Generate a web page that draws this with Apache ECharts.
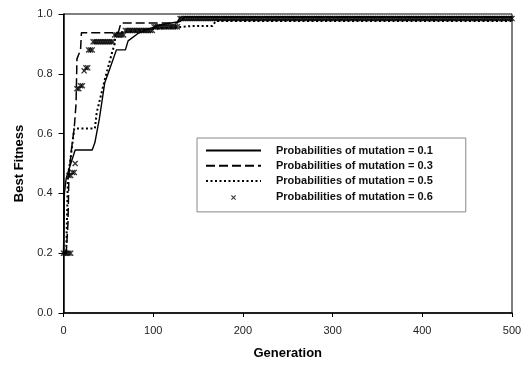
<!DOCTYPE html>
<html>
<head>
<meta charset="utf-8">
<script src="https://cdn.jsdelivr.net/npm/echarts@6/dist/echarts.min.js"></script>
<style>
  html, body { margin: 0; padding: 0; background: #fff; }
  #chart { width: 531px; height: 365px; }
</style>
</head>
<body>
<div id="chart"></div>
<script>
// [generation, best fitness]
const mut01 = [[0,0.2],[1,0.4],[3,0.45],[6,0.48],[13,0.545],[32,0.545],[35,0.57],[40,0.65],[46,0.77],[52,0.82],[59,0.88],[69,0.88],[72,0.91],[83,0.935],[95,0.95],[110,0.965],[130,0.975],[135,0.99],[500,0.99]];
const mut03 = [[0,0.2],[3,0.2],[5,0.3],[6,0.46],[9,0.55],[12,0.62],[14,0.7],[15,0.85],[19,0.88],[20,0.937],[61,0.937],[64,0.97],[127,0.97],[130,0.99],[500,0.99]];
const mut05 = [[0,0.2],[3,0.2],[5,0.46],[8,0.52],[12,0.617],[35,0.617],[37,0.67],[46,0.78],[54,0.87],[57,0.9],[58,0.937],[100,0.95],[145,0.96],[166,0.96],[170,0.977],[500,0.977]];
const mut06 = [
  [0,0.2],[2,0.2],[4,0.2],[6,0.2],[8,0.2],
  [6,0.46],[8,0.46],[10,0.47],[12,0.47],[13,0.5],
  [15,0.75],[17,0.75],[19,0.76],[21,0.76],
  [23,0.81],[25,0.82],[27,0.82],
  [28,0.88],[30,0.88],[32,0.88],
  [33,0.907],[35,0.907],[37,0.907],[39,0.907],[41,0.907],[43,0.907],[45,0.907],[47,0.907],[49,0.907],[51,0.907],[53,0.907],[55,0.907],
  [57,0.93],[59,0.93],[61,0.93],[63,0.93],[65,0.93],[67,0.93],
  [69,0.945],[71,0.945],[73,0.945],[75,0.945],[77,0.945],[79,0.945],[81,0.945],[83,0.945],[85,0.945],[87,0.945],[89,0.945],[91,0.945],[93,0.945],[95,0.945],[97,0.945],[99,0.945],
  [101,0.957],[103,0.957],[105,0.957],[107,0.957],[109,0.957],[111,0.957],[113,0.957],[115,0.957],[117,0.957],[119,0.957],[121,0.957],[123,0.957],[125,0.957],[127,0.957],
  [130,0.985],[132,0.985],[134,0.985],[136,0.985],[138,0.985],[140,0.985],[142,0.985],[144,0.985],[146,0.985],[148,0.985],
  [150,0.985],[152,0.985],[154,0.985],[156,0.985],[158,0.985],[160,0.985],[162,0.985],[164,0.985],[166,0.985],[168,0.985],
  [170,0.985],[172,0.985],[174,0.985],[176,0.985],[178,0.985],[180,0.985],[182,0.985],[184,0.985],[186,0.985],[188,0.985],
  [190,0.985],[192,0.985],[194,0.985],[196,0.985],[198,0.985],[200,0.985],[202,0.985],[204,0.985],[206,0.985],[208,0.985],
  [210,0.985],[212,0.985],[214,0.985],[216,0.985],[218,0.985],[220,0.985],[222,0.985],[224,0.985],[226,0.985],[228,0.985],
  [230,0.985],[232,0.985],[234,0.985],[236,0.985],[238,0.985],[240,0.985],[242,0.985],[244,0.985],[246,0.985],[248,0.985],
  [250,0.985],[252,0.985],[254,0.985],[256,0.985],[258,0.985],[260,0.985],[262,0.985],[264,0.985],[266,0.985],[268,0.985],
  [270,0.985],[272,0.985],[274,0.985],[276,0.985],[278,0.985],[280,0.985],[282,0.985],[284,0.985],[286,0.985],[288,0.985],
  [290,0.985],[292,0.985],[294,0.985],[296,0.985],[298,0.985],[300,0.985],[302,0.985],[304,0.985],[306,0.985],[308,0.985],
  [310,0.985],[312,0.985],[314,0.985],[316,0.985],[318,0.985],[320,0.985],[322,0.985],[324,0.985],[326,0.985],[328,0.985],
  [330,0.985],[332,0.985],[334,0.985],[336,0.985],[338,0.985],[340,0.985],[342,0.985],[344,0.985],[346,0.985],[348,0.985],
  [350,0.985],[352,0.985],[354,0.985],[356,0.985],[358,0.985],[360,0.985],[362,0.985],[364,0.985],[366,0.985],[368,0.985],
  [370,0.985],[372,0.985],[374,0.985],[376,0.985],[378,0.985],[380,0.985],[382,0.985],[384,0.985],[386,0.985],[388,0.985],
  [390,0.985],[392,0.985],[394,0.985],[396,0.985],[398,0.985],[400,0.985],[402,0.985],[404,0.985],[406,0.985],[408,0.985],
  [410,0.985],[412,0.985],[414,0.985],[416,0.985],[418,0.985],[420,0.985],[422,0.985],[424,0.985],[426,0.985],[428,0.985],
  [430,0.985],[432,0.985],[434,0.985],[436,0.985],[438,0.985],[440,0.985],[442,0.985],[444,0.985],[446,0.985],[448,0.985],
  [450,0.985],[452,0.985],[454,0.985],[456,0.985],[458,0.985],[460,0.985],[462,0.985],[464,0.985],[466,0.985],[468,0.985],
  [470,0.985],[472,0.985],[474,0.985],[476,0.985],[478,0.985],[480,0.985],[482,0.985],[484,0.985],[486,0.985],[488,0.985],
  [490,0.985],[492,0.985],[494,0.985],[496,0.985],[498,0.985],[500,0.985]
];
const seriesNames = [
  'Probabilities of mutation = 0.1',
  'Probabilities of mutation = 0.3',
  'Probabilities of mutation = 0.5',
  'Probabilities of mutation = 0.6'
];

const crossPath = 'path://M0,1.5L1.5,0L5,3.5L8.5,0L10,1.5L6.5,5L10,8.5L8.5,10L5,6.5L1.5,10L0,8.5L3.5,5Z';
// same cross with empty room around it, so the legend draws it small
const crossLegend = 'path://M-8,-8L-8,-8ZM18,18L18,18ZM0,1.5L1.5,0L5,3.5L8.5,0L10,1.5L6.5,5L10,8.5L8.5,10L5,6.5L1.5,10L0,8.5L3.5,5Z';
const noSymbol = { color: 'rgba(0,0,0,0)', borderWidth: 0 };
const font = 'Arial, "Liberation Sans", sans-serif';

var myChart = echarts.init(document.getElementById('chart'), null, { renderer: 'canvas' });

var option = {
  animation: false,
  grid: {
    left: 63.5, right: 19, top: 14, bottom: 51,
    show: true, borderColor: '#000', borderWidth: 1
  },
  xAxis: {
    type: 'value', min: 0, max: 500, interval: 100,
    name: 'Generation', nameLocation: 'middle', nameGap: 34,
    nameTextStyle: { fontFamily: font, fontWeight: 'bold', fontSize: 13, color: '#000' },
    axisLine: { show: true, lineStyle: { color: '#000', width: 1.5 } },
    axisTick: { show: true, length: 4, lineStyle: { color: '#000' } },
    axisLabel: { fontFamily: font, fontSize: 11, color: '#222', margin: 12 },
    splitLine: { show: false }
  },
  yAxis: {
    type: 'value', min: 0, max: 1, interval: 0.2,
    name: 'Best Fitness', nameLocation: 'middle', nameGap: 38,
    nameTextStyle: { fontFamily: font, fontWeight: 'bold', fontSize: 13, color: '#000' },
    axisLine: { show: true, lineStyle: { color: '#000', width: 1.5 } },
    axisTick: { show: true, length: 5, lineStyle: { color: '#000' } },
    axisLabel: { fontFamily: font, fontSize: 11, color: '#222', margin: 11,
      formatter: function (v) { return v.toFixed(1); } },
    splitLine: { show: false }
  },
  legend: {
    orient: 'vertical', left: 197, top: 138,
    padding: [7, 33, 8, 8],
    backgroundColor: '#fff', borderColor: '#888', borderWidth: 1,
    itemWidth: 55, itemHeight: 13, itemGap: 4.3,
    textStyle: { fontFamily: font, fontWeight: 'bold', fontSize: 11, color: '#111', padding: [0, 0, 0, 10] },
    data: [
      { name: seriesNames[0], itemStyle: noSymbol },
      { name: seriesNames[1], itemStyle: noSymbol },
      { name: seriesNames[2], itemStyle: noSymbol },
      { name: seriesNames[3], icon: crossLegend }
    ]
  },
  series: [
    {
      name: seriesNames[0], type: 'line', data: mut01, showSymbol: false, symbol: 'none',
      lineStyle: { color: '#000', width: 1.4, type: 'solid' }, itemStyle: { color: '#000' }, z: 3
    },
    {
      name: seriesNames[1], type: 'line', data: mut03, showSymbol: false, symbol: 'none',
      lineStyle: { color: '#000', width: 1.5, type: [9, 4] }, itemStyle: { color: '#000' }, z: 3
    },
    {
      name: seriesNames[2], type: 'line', data: mut05, showSymbol: false, symbol: 'none',
      lineStyle: { color: '#000', width: 2, type: [2, 2.5] }, itemStyle: { color: '#000' }, z: 2
    },
    {
      name: seriesNames[3], type: 'scatter', data: mut06, symbol: crossPath, symbolSize: 6,
      itemStyle: { color: '#000' }, z: 4
    }
  ]
};

myChart.setOption(option);
</script>
</body>
</html>
